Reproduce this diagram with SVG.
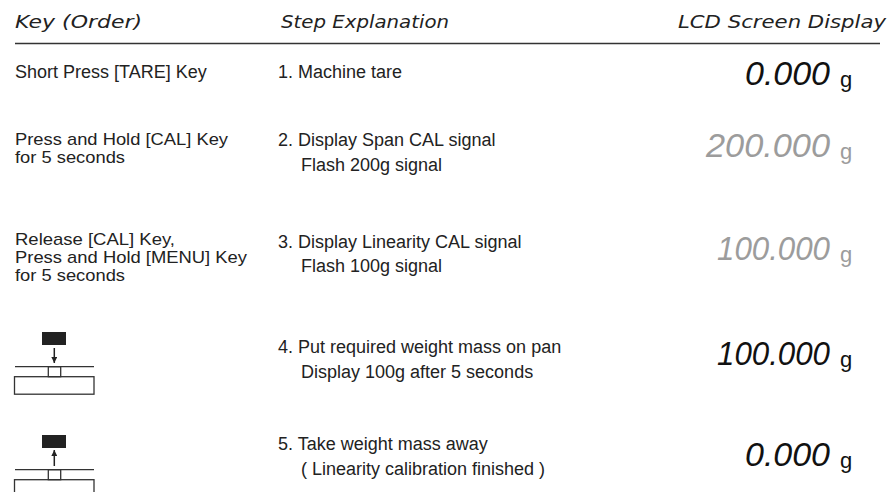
<svg xmlns="http://www.w3.org/2000/svg" width="893" height="492" viewBox="0 0 893 492">
<defs>
<style>
.hd{font-family:"DejaVu Sans",sans-serif;font-style:italic;font-size:18px;fill:#222;}
.tx{font-family:"Liberation Sans",Arial,sans-serif;font-size:18px;fill:#222;}
.tk{font-family:"Liberation Sans",Arial,sans-serif;font-size:16.2px;fill:#222;}
.lcd{font-family:"Liberation Sans",Arial,sans-serif;font-style:italic;font-size:33px;}
.u{font-family:"Liberation Sans",Arial,sans-serif;font-size:22px;}
.blk{fill:#111;}
.gry{fill:#9c9c9c;}
.ln{stroke:#333;stroke-width:1.3;fill:none;}
.ar{stroke:#222;stroke-width:1.5;fill:none;}
.wt{fill:#222;}
</style>
<marker id="ah" viewBox="0 0 10 10" refX="10" refY="5" markerWidth="6" markerHeight="6" markerUnits="userSpaceOnUse" orient="auto">
<path d="M0,0 L10,5 L0,10 Z" fill="#222"/>
</marker>
</defs>
<rect width="893" height="492" fill="#fff"/>
<g id="header">
<text class="hd" x="15" y="28" textLength="127" lengthAdjust="spacingAndGlyphs">Key (Order)</text>
<text class="hd" x="281" y="28" textLength="168" lengthAdjust="spacingAndGlyphs">Step Explanation</text>
<text class="hd" x="678" y="28" textLength="208" lengthAdjust="spacingAndGlyphs">LCD Screen Display</text>
<line class="ln" x1="15" y1="43.5" x2="880" y2="43.5"/>
</g>
<g id="connectors"/>
<g id="row1">
<text class="tx" x="15" y="78">Short Press [TARE] Key</text>
<text class="tx" x="278" y="78">1. Machine tare</text>
<text class="lcd blk" x="745" y="85" textLength="85" lengthAdjust="spacingAndGlyphs">0.000</text>
<text class="u blk" x="840" y="87">g</text>
</g>
<g id="row2">
<text class="tk" x="15" y="145" textLength="213" lengthAdjust="spacingAndGlyphs">Press and Hold [CAL] Key</text>
<text class="tk" x="15" y="163.2" textLength="110" lengthAdjust="spacingAndGlyphs">for 5 seconds</text>
<text class="tx" x="278" y="146">2. Display Span CAL signal</text>
<text class="tx" x="301" y="171">Flash 200g signal</text>
<text class="lcd gry" x="706" y="157" textLength="124" lengthAdjust="spacingAndGlyphs">200.000</text>
<text class="u gry" x="840" y="159">g</text>
</g>
<g id="row3">
<text class="tk" x="15" y="245" textLength="160" lengthAdjust="spacingAndGlyphs">Release [CAL] Key,</text>
<text class="tk" x="15" y="263.2" textLength="232" lengthAdjust="spacingAndGlyphs">Press and Hold [MENU] Key</text>
<text class="tk" x="15" y="281.4" textLength="110" lengthAdjust="spacingAndGlyphs">for 5 seconds</text>
<text class="tx" x="278" y="248">3. Display Linearity CAL signal</text>
<text class="tx" x="301" y="272">Flash 100g signal</text>
<text class="lcd gry" x="717" y="260" textLength="113" lengthAdjust="spacingAndGlyphs">100.000</text>
<text class="u gry" x="840" y="262">g</text>
</g>
<g id="row4">
<g id="icon-put">
<rect class="wt" x="42" y="332" width="24" height="13"/>
<line class="ar" x1="54.3" y1="348" x2="54.3" y2="363" marker-end="url(#ah)"/>
<line class="ln" x1="15" y1="366.7" x2="94" y2="366.7"/>
<rect class="ln" x="48.3" y="366.7" width="12.4" height="10"/>
<rect class="ln" x="14.5" y="376.7" width="79.5" height="17.5"/>
</g>
<text class="tx" x="278" y="353">4. Put required weight mass on pan</text>
<text class="tx" x="301" y="378">Display 100g after 5 seconds</text>
<text class="lcd blk" x="717" y="365" textLength="113" lengthAdjust="spacingAndGlyphs">100.000</text>
<text class="u blk" x="840" y="367">g</text>
</g>
<g id="row5">
<g id="icon-take">
<rect class="wt" x="42" y="435" width="24" height="13"/>
<line class="ar" x1="54.3" y1="466" x2="54.3" y2="450" marker-end="url(#ah)"/>
<line class="ln" x1="15" y1="469.7" x2="94" y2="469.7"/>
<rect class="ln" x="48.3" y="469.7" width="12.4" height="10"/>
<rect class="ln" x="14.5" y="479.7" width="79.5" height="17.5"/>
</g>
<text class="tx" x="278" y="450">5. Take weight mass away</text>
<text class="tx" x="301" y="475">( Linearity calibration finished )</text>
<text class="lcd blk" x="745" y="466" textLength="85" lengthAdjust="spacingAndGlyphs">0.000</text>
<text class="u blk" x="840" y="468">g</text>
</g>
</svg>
